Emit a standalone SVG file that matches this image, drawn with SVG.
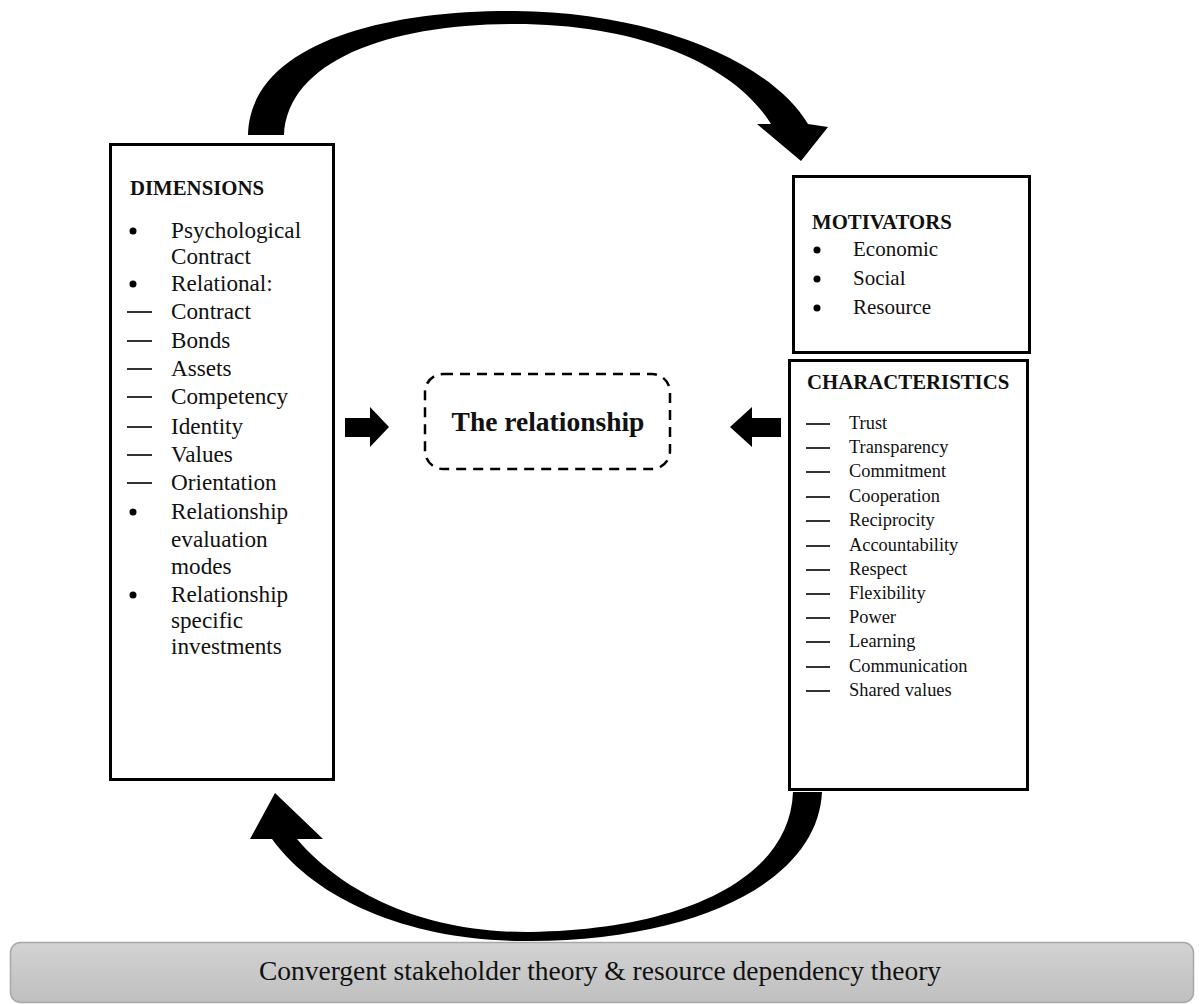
<svg xmlns="http://www.w3.org/2000/svg" width="1199" height="1004" viewBox="0 0 1199 1004">
  <defs>
    <linearGradient id="barFill" x1="0" y1="0" x2="0" y2="1">
      <stop offset="0" stop-color="#d3d3d3"/>
      <stop offset="1" stop-color="#bfbfbf"/>
    </linearGradient>
    <style>
      text { font-family: "Liberation Serif", "Times New Roman", serif; fill: #111; }
      .box { fill: #fff; stroke: #000; stroke-width: 3; }
      .head { font-size: 20.8px; font-weight: bold; }
      .item { font-size: 23.2px; }
      .mot { font-size: 21px; }
      .chr { font-size: 18.4px; }
      .dash { stroke: #000; stroke-width: 1.6; }
      .flow { fill: #000; }
    </style>
  </defs>
  <rect width="1199" height="1004" fill="#fff"/>

  <!-- connectors: curved cycle arrows and the two block arrows -->
  <g id="connectors">
    <path class="flow" d="M248,135 C250,45 380,10 515,11 C650,12 770,60 808,124 L828,127 L801,161 L757,124 L771,124 C735,65 640,24 515,24 C390,24 288,60 284,135 Z"/>
    <path class="flow" d="M793,792 C790,880 680,930 530,932 C420,933 340,890 297,839 L323,839 L275,793 L250,839 L272,839 C320,905 420,942 530,941 C700,940 818,880 822,792 Z"/>
    <polygon class="flow" points="345,418 370,418 370,407 389,427 370,447 370,437 345,437"/>
    <polygon class="flow" points="781,418 752,418 752,407 730,427 752,447 752,437 781,437"/>
  </g>

  <!-- dimensions -->
  <g id="dimensions">
    <rect class="box" x="110.5" y="144.5" width="223" height="635"/>
    <text class="head" x="130" y="195">DIMENSIONS</text>
    <g>
      <circle cx="133" cy="231" r="3.5"/>
      <text class="item" x="171" y="238">Psychological</text>
      <text class="item" x="171" y="264">Contract</text>
      <circle cx="133" cy="284" r="3.5"/>
      <text class="item" x="171" y="291">Relational:</text>
      <line class="dash" x1="127" y1="312" x2="152" y2="312"/>
      <text class="item" x="171" y="319">Contract</text>
      <line class="dash" x1="127" y1="341" x2="152" y2="341"/>
      <text class="item" x="171" y="348">Bonds</text>
      <line class="dash" x1="127" y1="369" x2="152" y2="369"/>
      <text class="item" x="171" y="376">Assets</text>
      <line class="dash" x1="127" y1="397" x2="152" y2="397"/>
      <text class="item" x="171" y="404">Competency</text>
      <line class="dash" x1="127" y1="427" x2="152" y2="427"/>
      <text class="item" x="171" y="434">Identity</text>
      <line class="dash" x1="127" y1="455" x2="152" y2="455"/>
      <text class="item" x="171" y="462">Values</text>
      <line class="dash" x1="127" y1="483" x2="152" y2="483"/>
      <text class="item" x="171" y="490">Orientation</text>
      <circle cx="133" cy="512" r="3.5"/>
      <text class="item" x="171" y="519">Relationship</text>
      <text class="item" x="171" y="547">evaluation</text>
      <text class="item" x="171" y="574">modes</text>
      <circle cx="133" cy="595" r="3.5"/>
      <text class="item" x="171" y="602">Relationship</text>
      <text class="item" x="171" y="628">specific</text>
      <text class="item" x="171" y="654">investments</text>
    </g>
  </g>

  <!-- centre -->
  <g id="relationship">
    <rect x="425" y="374" width="245" height="95" rx="18" fill="#fff" stroke="#000" stroke-width="2.5" stroke-dasharray="10 7"/>
    <text x="548" y="431" text-anchor="middle" font-size="27.5" font-weight="bold">The relationship</text>
  </g>

  <!-- motivators -->
  <g id="motivators">
    <rect class="box" x="793.5" y="176.5" width="236" height="176"/>
    <text class="head" x="812" y="229">MOTIVATORS</text>
    <circle cx="817" cy="250" r="3.5"/>
    <text class="mot" x="853" y="256">Economic</text>
    <circle cx="817" cy="279" r="3.5"/>
    <text class="mot" x="853" y="285">Social</text>
    <circle cx="817" cy="308" r="3.5"/>
    <text class="mot" x="853" y="314">Resource</text>
  </g>

  <!-- characteristics -->
  <g id="characteristics">
    <rect class="box" x="789.5" y="360.5" width="238" height="429"/>
    <text class="head" x="807" y="389">CHARACTERISTICS</text>
    <g>
      <line class="dash" x1="806" y1="424" x2="830" y2="424"/><text class="chr" x="849" y="429">Trust</text>
      <line class="dash" x1="806" y1="448" x2="830" y2="448"/><text class="chr" x="849" y="453">Transparency</text>
      <line class="dash" x1="806" y1="472" x2="830" y2="472"/><text class="chr" x="849" y="477">Commitment</text>
      <line class="dash" x1="806" y1="497" x2="830" y2="497"/><text class="chr" x="849" y="502">Cooperation</text>
      <line class="dash" x1="806" y1="521" x2="830" y2="521"/><text class="chr" x="849" y="526">Reciprocity</text>
      <line class="dash" x1="806" y1="546" x2="830" y2="546"/><text class="chr" x="849" y="551">Accountability</text>
      <line class="dash" x1="806" y1="570" x2="830" y2="570"/><text class="chr" x="849" y="575">Respect</text>
      <line class="dash" x1="806" y1="594" x2="830" y2="594"/><text class="chr" x="849" y="599">Flexibility</text>
      <line class="dash" x1="806" y1="618" x2="830" y2="618"/><text class="chr" x="849" y="623">Power</text>
      <line class="dash" x1="806" y1="642" x2="830" y2="642"/><text class="chr" x="849" y="647">Learning</text>
      <line class="dash" x1="806" y1="667" x2="830" y2="667"/><text class="chr" x="849" y="672">Communication</text>
      <line class="dash" x1="806" y1="691" x2="830" y2="691"/><text class="chr" x="849" y="696">Shared values</text>
    </g>
  </g>

  <!-- theory base bar -->
  <g id="theory">
    <rect x="10.5" y="942.5" width="1183" height="60" rx="10" fill="url(#barFill)" stroke="#a8a8a8" stroke-width="1.5"/>
    <text x="600" y="980" text-anchor="middle" font-size="27.5">Convergent stakeholder theory &amp; resource dependency theory</text>
  </g>
</svg>
